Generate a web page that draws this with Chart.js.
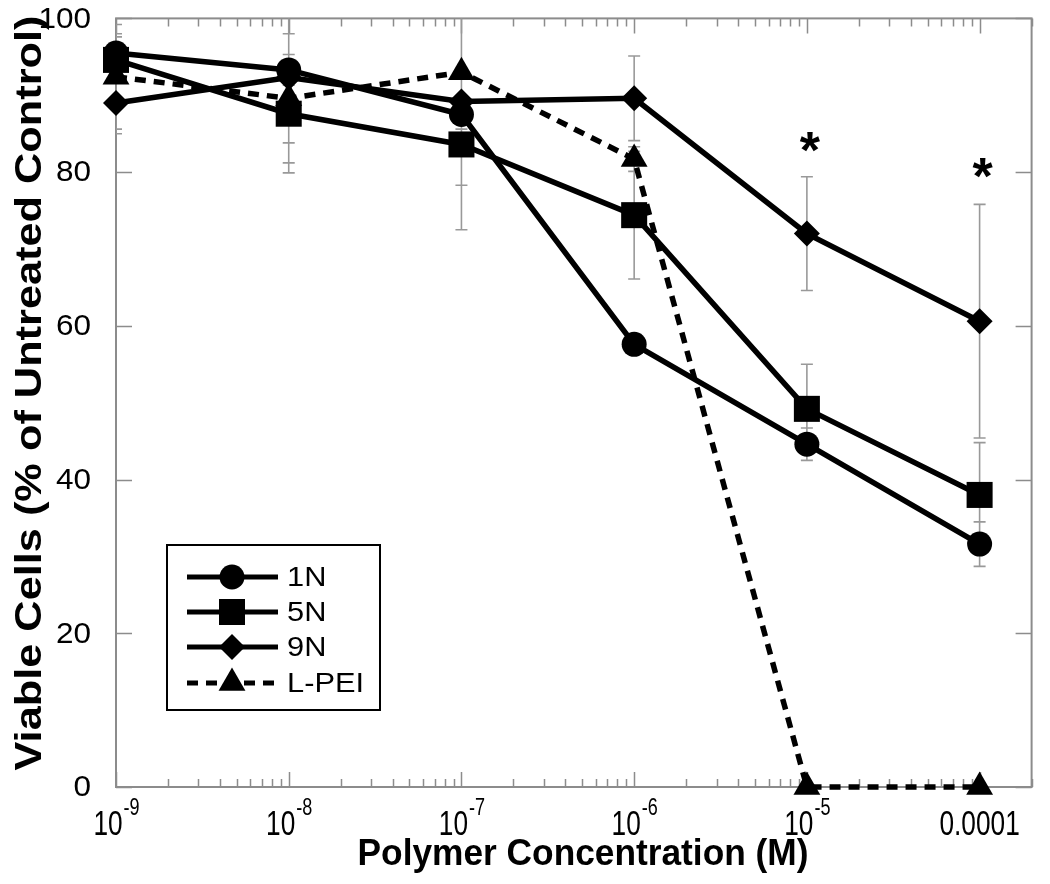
<!DOCTYPE html>
<html>
<head>
<meta charset="utf-8">
<script src="https://cdn.jsdelivr.net/npm/chart.js@4.4.0/dist/chart.umd.min.js"></script>
<style>
  html, body { margin: 0; padding: 0; background: #fff; overflow: hidden; }
  #wrap { width: 1050px; height: 884px; position: relative; }
  #wrap canvas { display: block; }
</style>
</head>
<body>
<div id="wrap"><canvas id="viabilityChart"></canvas></div>
<script>
// concentrations (M) and mean viability (% of untreated control)
const concentrations = [1e-9, 1e-8, 1e-7, 1e-6, 1e-5, 1e-4];
const viability1N = [95.5, 93.3, 87.5, 57.6, 44.6, 31.6];
const viability5N = [94.6, 87.6, 83.6, 74.4, 49.2, 38.0];
const viability9N = [89.0, 92.3, 89.2, 89.6, 72.0, 60.6];
const viabilityLPEI = [92.4, 89.6, 93.0, 81.7, 0, 0];
// standard deviations
const error1N = [2.5, 2.0, 15.0, 1.0, 2.1, 2.9];
const error5N = [3.0, 7.7, 5.3, 8.3, 5.8, 6.8];
const error9N = [4.0, 8.5, 3.6, 5.5, 7.4, 15.2];
const errorLPEI = [6.8, 8.4, 20.5, 1.6, 0, 0];
// significance markers
const starX = [1e-5, 1e-4];
const starY = [84.5, 81.0];

const yTicks = [0, 20, 40, 60, 80, 100];
const xTickValues = [1e-9, 1e-8, 1e-7, 1e-6, 1e-5, 1e-4];
const xTickLabels = ["10^-9", "10^-8", "10^-7", "10^-6", "10^-5", "0.0001"];

const frameColor = "#8c8c8c";
const sansFont = '"Liberation Sans", Arial, sans-serif';

function toPoints(values) {
  return values.map((v, i) => ({ x: concentrations[i], y: v }));
}

function scaledText(ctx, text, x, y, sx, sy) {
  ctx.save();
  ctx.translate(x, y);
  ctx.scale(sx, sy || 1);
  ctx.fillText(text, 0, 0);
  ctx.restore();
}

function drawMarker(ctx, style, x, y, r) {
  ctx.beginPath();
  if (style === "circle") {
    ctx.arc(x, y, r, 0, Math.PI * 2);
  } else if (style === "rect") {
    const h = r * Math.SQRT1_2;
    ctx.rect(x - h, y - h, 2 * h, 2 * h);
  } else if (style === "rectRot") {
    ctx.moveTo(x, y - r);
    ctx.lineTo(x + r, y);
    ctx.lineTo(x, y + r);
    ctx.lineTo(x - r, y);
    ctx.closePath();
  } else if (style === "triangle") {
    let a = 0;
    ctx.moveTo(x + Math.sin(a) * r, y - Math.cos(a) * r);
    a += Math.PI * 2 / 3;
    ctx.lineTo(x + Math.sin(a) * r, y - Math.cos(a) * r);
    a += Math.PI * 2 / 3;
    ctx.lineTo(x + Math.sin(a) * r, y - Math.cos(a) * r);
    ctx.closePath();
  }
  ctx.fill();
}

function series(label, values, errors, style, radius, dash, order) {
  return {
    label: label,
    data: toPoints(values),
    errors: errors,
    borderColor: "#000",
    backgroundColor: "#000",
    borderWidth: 5.5,
    borderDash: dash,
    pointStyle: style,
    pointRadius: radius,
    pointBorderWidth: 0,
    pointBackgroundColor: "#000",
    tension: 0,
    clip: false,
    order: order,
  };
}

const paperPlugin = {
  id: "paper",
  beforeDatasetsDraw(chart) {
    const { ctx, chartArea: a, scales: { x, y } } = chart;
    ctx.save();
    // frame
    ctx.strokeStyle = frameColor;
    ctx.lineWidth = 2;
    ctx.strokeRect(a.left, a.top, a.width, a.height);
    // log ticks top and bottom, inward
    ctx.lineWidth = 1.5;
    ctx.beginPath();
    for (let d = -9; d <= -4; d++) {
      for (let m = 1; m <= 9; m++) {
        const v = m * Math.pow(10, d);
        if (v > x.max) continue;
        const px = Math.round(x.getPixelForValue(v)) + 0.5;
        const len = m === 1 ? 15 : 8;
        ctx.moveTo(px, a.top); ctx.lineTo(px, a.top + len);
        ctx.moveTo(px, a.bottom); ctx.lineTo(px, a.bottom - len);
      }
    }
    // y ticks left and right, inward
    yTicks.forEach(t => {
      const py = Math.round(y.getPixelForValue(t)) + 0.5;
      ctx.moveTo(a.left, py); ctx.lineTo(a.left + 16, py);
      ctx.moveTo(a.right, py); ctx.lineTo(a.right - 16, py);
    });
    ctx.stroke();
    // error bars
    ctx.beginPath();
    ctx.rect(a.left, a.top, a.width, a.height);
    ctx.clip();
    ctx.strokeStyle = "#999";
    ctx.lineWidth = 1.6;
    ctx.beginPath();
    chart.data.datasets.forEach(ds => {
      ds.data.forEach((p, i) => {
        const e = ds.errors[i];
        if (!e) return;
        const px = x.getPixelForValue(p.x);
        const top = y.getPixelForValue(p.y + e);
        const bot = y.getPixelForValue(p.y - e);
        ctx.moveTo(px, top); ctx.lineTo(px, bot);
        ctx.moveTo(px - 6, top); ctx.lineTo(px + 6, top);
        ctx.moveTo(px - 6, bot); ctx.lineTo(px + 6, bot);
      });
    });
    ctx.stroke();
    ctx.restore();
  },
  afterDraw(chart) {
    const { ctx, chartArea: a, scales: { x, y } } = chart;
    ctx.save();
    ctx.fillStyle = "#000";

    // y tick labels
    ctx.font = "30px " + sansFont;
    ctx.textAlign = "right";
    ctx.textBaseline = "middle";
    yTicks.forEach(t => {
      scaledText(ctx, String(t), 91, y.getPixelForValue(t) + 1, 1.05);
    });

    // x tick labels with superscripts
    const sx = 0.82;
    ctx.textAlign = "left";
    ctx.textBaseline = "alphabetic";
    xTickValues.forEach((v, i) => {
      const parts = xTickLabels[i].split("^");
      const px = x.getPixelForValue(v);
      ctx.font = "32px " + sansFont;
      const wb = ctx.measureText(parts[0]).width * sx;
      let we = 0;
      if (parts[1]) {
        ctx.font = "22px " + sansFont;
        we = ctx.measureText(parts[1]).width * sx;
      }
      const start = px - (wb + we) / 2;
      ctx.font = "32px " + sansFont;
      scaledText(ctx, parts[0], start, 835, sx, 1.08);
      if (parts[1]) {
        ctx.font = "22px " + sansFont;
        scaledText(ctx, parts[1], start + wb + 1, 815, sx, 1.08);
      }
    });

    // axis titles
    ctx.font = "bold 36px " + sansFont;
    ctx.textAlign = "center";
    scaledText(ctx, "Polymer Concentration (M)", 583, 865, 0.98, 1.04);

    const yTitle = "Viable Cells (% of Untreated Control)";
    const yw = ctx.measureText(yTitle).width;
    ctx.save();
    ctx.translate(41, 393);
    ctx.rotate(-Math.PI / 2);
    ctx.scale(755 / yw, 1);
    ctx.fillText(yTitle, 0, 0);
    ctx.restore();

    // significance asterisks
    ctx.font = "bold 52px " + sansFont;
    starX.forEach((v, i) => {
      ctx.fillText("*", x.getPixelForValue(v) + 3, y.getPixelForValue(starY[i]) + 30);
    });

    // legend box
    const lx = 167, ly = 545, lw = 213, lh = 165;
    ctx.fillStyle = "#fff";
    ctx.fillRect(lx, ly, lw, lh);
    ctx.strokeStyle = "#000";
    ctx.lineWidth = 2;
    ctx.strokeRect(lx, ly, lw, lh);
    const rows = [577, 612, 647, 683];
    ctx.font = "28px " + sansFont;
    ctx.textAlign = "left";
    ctx.textBaseline = "middle";
    chart.data.datasets.forEach((ds, i) => {
      const ry = rows[i];
      ctx.strokeStyle = "#000";
      ctx.lineWidth = 5;
      ctx.setLineDash(ds.borderDash || []);
      ctx.beginPath();
      ctx.moveTo(187, ry); ctx.lineTo(278, ry);
      ctx.stroke();
      ctx.setLineDash([]);
      ctx.fillStyle = "#000";
      drawMarker(ctx, ds.pointStyle, 232, ry, ds.pointRadius);
      scaledText(ctx, ds.label, 287, ry + 1, 1.1);
    });
    ctx.restore();
  },
};

new Chart(document.getElementById("viabilityChart"), {
  type: "line",
  data: {
    datasets: [
      series("1N", viability1N, error1N, "circle", 12.5, [], 3),
      series("5N", viability5N, error5N, "rect", 18.4, [], 2),
      series("9N", viability9N, error9N, "rectRot", 13, [], 1),
      series("L-PEI", viabilityLPEI, errorLPEI, "triangle", 15.5, [11, 8], 0),
    ],
  },
  options: {
    responsive: true,
    maintainAspectRatio: false,
    animation: false,
    layout: { padding: { left: 116, right: 2, top: 11, bottom: 97 } },
    scales: {
      x: { type: "logarithmic", min: 1e-9, max: 2e-4, display: false },
      y: { type: "linear", min: 0, max: 100, display: false },
    },
    plugins: {
      legend: { display: false },
      tooltip: { enabled: false },
    },
  },
  plugins: [paperPlugin],
});
</script>
</body>
</html>
